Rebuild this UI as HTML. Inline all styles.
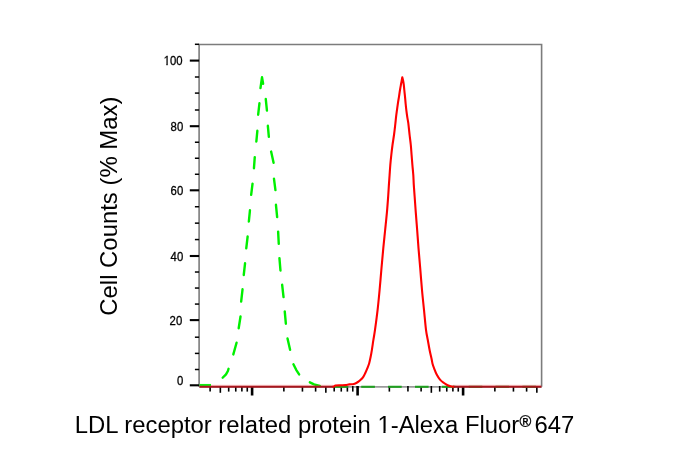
<!DOCTYPE html>
<html><head><meta charset="utf-8"><style>
html,body{margin:0;padding:0;background:#fff;}
body{width:696px;height:451px;position:relative;overflow:hidden;font-family:"Liberation Sans",Arial,sans-serif;}
svg{position:absolute;left:0;top:0;}
</style></head><body>
<svg width="696" height="451" viewBox="0 0 696 451">
<path d="M199.1,386.8 L199.1,44.55 L541.6,44.55 L541.6,386.8" fill="none" stroke="#7c7c7c" stroke-width="1.6"/>
<line x1="199.1" y1="386.8" x2="541.6" y2="386.8" stroke="#9a9a9a" stroke-width="1.8"/>
<line x1="189.8" y1="385.30" x2="199.1" y2="385.30" stroke="#000" stroke-width="2.1"/>
<line x1="194.9" y1="369.50" x2="199.1" y2="369.50" stroke="#000" stroke-width="1.5"/>
<line x1="194.9" y1="353.40" x2="199.1" y2="353.40" stroke="#000" stroke-width="1.5"/>
<line x1="194.9" y1="337.20" x2="199.1" y2="337.20" stroke="#000" stroke-width="1.5"/>
<line x1="189.8" y1="320.10" x2="199.1" y2="320.10" stroke="#000" stroke-width="2.1"/>
<line x1="194.9" y1="304.08" x2="199.1" y2="304.08" stroke="#000" stroke-width="1.5"/>
<line x1="194.9" y1="288.05" x2="199.1" y2="288.05" stroke="#000" stroke-width="1.5"/>
<line x1="194.9" y1="272.02" x2="199.1" y2="272.02" stroke="#000" stroke-width="1.5"/>
<line x1="189.8" y1="256.00" x2="199.1" y2="256.00" stroke="#000" stroke-width="2.1"/>
<line x1="194.9" y1="239.57" x2="199.1" y2="239.57" stroke="#000" stroke-width="1.5"/>
<line x1="194.9" y1="223.15" x2="199.1" y2="223.15" stroke="#000" stroke-width="1.5"/>
<line x1="194.9" y1="206.73" x2="199.1" y2="206.73" stroke="#000" stroke-width="1.5"/>
<line x1="189.8" y1="190.30" x2="199.1" y2="190.30" stroke="#000" stroke-width="2.1"/>
<line x1="194.9" y1="174.28" x2="199.1" y2="174.28" stroke="#000" stroke-width="1.5"/>
<line x1="194.9" y1="158.25" x2="199.1" y2="158.25" stroke="#000" stroke-width="1.5"/>
<line x1="194.9" y1="142.23" x2="199.1" y2="142.23" stroke="#000" stroke-width="1.5"/>
<line x1="189.8" y1="126.20" x2="199.1" y2="126.20" stroke="#000" stroke-width="2.1"/>
<line x1="194.9" y1="110.00" x2="199.1" y2="110.00" stroke="#000" stroke-width="1.5"/>
<line x1="194.9" y1="93.10" x2="199.1" y2="93.10" stroke="#000" stroke-width="1.5"/>
<line x1="194.9" y1="77.00" x2="199.1" y2="77.00" stroke="#000" stroke-width="1.5"/>
<line x1="189.8" y1="60.60" x2="199.1" y2="60.60" stroke="#000" stroke-width="2.1"/>
<line x1="194.9" y1="44.30" x2="199.1" y2="44.30" stroke="#000" stroke-width="1.5"/>
<line x1="210.12" y1="386.0" x2="210.12" y2="391.6" stroke="#000" stroke-width="1.6"/>
<line x1="220.34" y1="386.0" x2="220.34" y2="392.8" stroke="#000" stroke-width="1.6"/>
<line x1="228.69" y1="386.0" x2="228.69" y2="391.6" stroke="#000" stroke-width="1.6"/>
<line x1="235.76" y1="386.0" x2="235.76" y2="391.6" stroke="#000" stroke-width="1.6"/>
<line x1="241.88" y1="386.0" x2="241.88" y2="391.6" stroke="#000" stroke-width="1.6"/>
<line x1="247.27" y1="386.0" x2="247.27" y2="391.6" stroke="#000" stroke-width="1.6"/>
<line x1="252.10" y1="386.0" x2="252.10" y2="395.5" stroke="#000" stroke-width="2.6"/>
<line x1="283.86" y1="386.0" x2="283.86" y2="391.6" stroke="#000" stroke-width="1.6"/>
<line x1="302.44" y1="386.0" x2="302.44" y2="391.6" stroke="#000" stroke-width="1.6"/>
<line x1="315.62" y1="386.0" x2="315.62" y2="391.6" stroke="#000" stroke-width="1.6"/>
<line x1="325.84" y1="386.0" x2="325.84" y2="392.8" stroke="#000" stroke-width="1.6"/>
<line x1="334.19" y1="386.0" x2="334.19" y2="391.6" stroke="#000" stroke-width="1.6"/>
<line x1="341.26" y1="386.0" x2="341.26" y2="391.6" stroke="#000" stroke-width="1.6"/>
<line x1="347.38" y1="386.0" x2="347.38" y2="391.6" stroke="#000" stroke-width="1.6"/>
<line x1="352.77" y1="386.0" x2="352.77" y2="391.6" stroke="#000" stroke-width="1.6"/>
<line x1="357.60" y1="386.0" x2="357.60" y2="395.5" stroke="#000" stroke-width="2.6"/>
<line x1="389.36" y1="386.0" x2="389.36" y2="391.6" stroke="#000" stroke-width="1.6"/>
<line x1="407.94" y1="386.0" x2="407.94" y2="391.6" stroke="#000" stroke-width="1.6"/>
<line x1="421.12" y1="386.0" x2="421.12" y2="391.6" stroke="#000" stroke-width="1.6"/>
<line x1="431.34" y1="386.0" x2="431.34" y2="392.8" stroke="#000" stroke-width="1.6"/>
<line x1="439.69" y1="386.0" x2="439.69" y2="391.6" stroke="#000" stroke-width="1.6"/>
<line x1="446.76" y1="386.0" x2="446.76" y2="391.6" stroke="#000" stroke-width="1.6"/>
<line x1="452.88" y1="386.0" x2="452.88" y2="391.6" stroke="#000" stroke-width="1.6"/>
<line x1="458.27" y1="386.0" x2="458.27" y2="391.6" stroke="#000" stroke-width="1.6"/>
<line x1="463.10" y1="386.0" x2="463.10" y2="395.5" stroke="#000" stroke-width="2.6"/>
<line x1="494.86" y1="386.0" x2="494.86" y2="391.6" stroke="#000" stroke-width="1.6"/>
<line x1="513.44" y1="386.0" x2="513.44" y2="391.6" stroke="#000" stroke-width="1.6"/>
<line x1="526.62" y1="386.0" x2="526.62" y2="391.6" stroke="#000" stroke-width="1.6"/>
<line x1="536.84" y1="386.0" x2="536.84" y2="392.8" stroke="#000" stroke-width="1.6"/>
<g fill="none" stroke="#1f9f1f" stroke-width="2.1">
<line x1="334.4" y1="386.8" x2="348.0" y2="386.8"/>
<line x1="361.2" y1="386.8" x2="374.9" y2="386.8"/>
<line x1="388.1" y1="386.8" x2="401.7" y2="386.8"/>
<line x1="415.0" y1="386.8" x2="428.6" y2="386.8"/>
<line x1="441.8" y1="386.8" x2="455.4" y2="386.8"/>
<line x1="468.7" y1="386.8" x2="482.3" y2="386.8"/>
<line x1="495.5" y1="386.8" x2="509.1" y2="386.8"/>
<line x1="522.4" y1="386.8" x2="536.0" y2="386.8"/>
</g>
<line x1="199.5" y1="385.1" x2="211" y2="385.1" stroke="#10ee10" stroke-width="2.3"/>
<g fill="none" stroke="#00f000" stroke-width="2.4" stroke-linejoin="round" stroke-linecap="round">
<path d="M222.65,377.75 L226.00,374.40 L227.90,371.00 L228.56,368.78"/>
<path d="M233.33,354.42 L236.57,342.78"/>
<path d="M238.68,328.21 L240.52,316.49"/>
<path d="M241.16,301.60 L242.54,289.30"/>
<path d="M243.75,275.00 L245.05,263.30"/>
<path d="M246.26,248.30 L247.64,236.50"/>
<path d="M248.85,221.50 L249.95,210.30"/>
<path d="M251.16,194.90 L252.54,183.70"/>
<path d="M253.94,168.30 L254.76,157.10"/>
<path d="M256.35,141.50 L257.35,130.80"/>
<path d="M258.16,114.70 L259.44,103.30"/>
<path d="M260.47,88.10 L262.00,77.30 L263.11,83.71"/>
<path d="M265.75,98.90 L266.95,110.60"/>
<path d="M267.85,125.80 L268.85,136.90"/>
<path d="M271.11,151.59 L273.59,162.81"/>
<path d="M273.96,178.60 L275.44,190.10"/>
<path d="M275.95,204.80 L277.15,217.10"/>
<path d="M278.13,231.60 L278.77,243.90"/>
<path d="M279.44,258.20 L280.46,270.50"/>
<path d="M282.16,284.80 L283.54,297.10"/>
<path d="M284.74,311.40 L285.86,323.70"/>
<path d="M287.51,338.49 L290.09,349.81"/>
<path d="M293.42,364.25 L296.20,369.80 L299.13,374.38"/>
<path d="M309.85,382.32 L314.00,384.40 L319.82,385.97"/>
</g>
<line x1="211" y1="385.4" x2="333" y2="385.4" stroke="#ff3030" stroke-opacity="0.22" stroke-width="1.3"/>
<line x1="453" y1="385.4" x2="541" y2="385.4" stroke="#ff3030" stroke-opacity="0.22" stroke-width="1.3"/>
<line x1="199.5" y1="386.8" x2="333" y2="386.8" stroke="#a8161e" stroke-width="2"/>
<line x1="453" y1="386.8" x2="541.5" y2="386.8" stroke="#a8161e" stroke-width="2"/>
<g fill="none" stroke="#ff0000" stroke-width="2.1" stroke-linejoin="round">
<path d="M332.50,386.75 C332.68,386.73 333.13,386.81 333.60,386.60 C334.07,386.39 334.07,385.72 335.30,385.50 C336.53,385.28 339.30,385.37 341.00,385.30 C342.70,385.23 344.12,385.25 345.50,385.10 C346.88,384.95 347.92,384.58 349.30,384.40 C350.68,384.22 352.50,384.32 353.80,384.00 C355.10,383.68 356.00,383.17 357.10,382.50 C358.20,381.83 359.37,380.95 360.40,380.00 C361.43,379.05 362.48,377.97 363.30,376.80 C364.12,375.63 364.62,374.45 365.30,373.00 C365.98,371.55 366.75,369.73 367.40,368.10 C368.05,366.47 368.67,365.05 369.20,363.20 C369.73,361.35 370.15,359.23 370.60,357.00 C371.05,354.77 371.43,352.65 371.90,349.80 C372.37,346.95 372.88,343.22 373.40,339.90 C373.92,336.58 374.30,334.90 375.00,329.90 C375.70,324.90 376.83,316.55 377.60,309.90 C378.37,303.25 378.95,296.98 379.60,290.00 C380.25,283.02 380.88,274.97 381.50,268.00 C382.12,261.03 382.70,254.45 383.30,248.20 C383.90,241.95 384.50,236.42 385.10,230.50 C385.70,224.58 386.38,218.45 386.90,212.70 C387.42,206.95 387.87,200.63 388.20,196.00 C388.53,191.37 388.67,188.40 388.90,184.90 C389.13,181.40 389.37,178.32 389.60,175.00 C389.83,171.68 390.02,168.33 390.30,165.00 C390.58,161.67 390.93,158.33 391.30,155.00 C391.67,151.67 392.05,148.33 392.50,145.00 C392.95,141.67 393.55,138.33 394.00,135.00 C394.45,131.67 394.85,128.07 395.20,125.00 C395.55,121.93 395.80,119.12 396.10,116.60 C396.40,114.08 396.70,112.12 397.00,109.90 C397.30,107.68 397.57,105.52 397.90,103.30 C398.23,101.08 398.65,98.82 399.00,96.60 C399.35,94.38 399.63,92.22 400.00,90.00 C400.37,87.78 400.82,85.42 401.20,83.30 C401.58,81.18 402.12,78.30 402.30,77.30 C402.52,78.30 403.27,81.18 403.60,83.30 C403.93,85.42 404.07,87.78 404.30,90.00 C404.53,92.22 404.78,94.38 405.00,96.60 C405.22,98.82 405.38,101.08 405.60,103.30 C405.82,105.52 406.03,107.68 406.30,109.90 C406.57,112.12 406.87,114.38 407.20,116.60 C407.53,118.82 407.90,120.13 408.30,123.20 C408.70,126.27 409.18,131.37 409.60,135.00 C410.02,138.63 410.47,141.67 410.80,145.00 C411.13,148.33 411.33,151.67 411.60,155.00 C411.87,158.33 412.12,161.67 412.40,165.00 C412.68,168.33 413.07,171.68 413.30,175.00 C413.53,178.32 413.58,181.40 413.80,184.90 C414.02,188.40 414.27,191.37 414.60,196.00 C414.93,200.63 415.37,206.95 415.80,212.70 C416.23,218.45 416.75,224.58 417.20,230.50 C417.65,236.42 418.00,241.95 418.50,248.20 C419.00,254.45 419.62,261.03 420.20,268.00 C420.78,274.97 421.37,283.02 422.00,290.00 C422.63,296.98 423.33,303.25 424.00,309.90 C424.67,316.55 425.37,324.88 426.00,329.90 C426.63,334.92 427.18,336.57 427.80,340.00 C428.42,343.43 429.07,347.33 429.70,350.50 C430.33,353.67 431.12,356.75 431.60,359.00 C432.08,361.25 432.15,362.37 432.60,364.00 C433.05,365.63 433.62,367.03 434.30,368.80 C434.98,370.57 435.75,372.80 436.70,374.60 C437.65,376.40 438.78,378.20 440.00,379.60 C441.22,381.00 442.73,382.07 444.00,383.00 C445.27,383.93 446.52,384.65 447.60,385.20 C448.68,385.75 449.43,386.04 450.50,386.30 C451.57,386.56 453.42,386.68 454.00,386.75" stroke-miterlimit="10"/>
</g>
<defs><clipPath id="c1t" clipPathUnits="userSpaceOnUse"><rect x="-5.00" y="-60.90" width="25.20" height="60"/><rect x="3.018" y="-0.90" width="1.414" height="5"/></clipPath><clipPath id="c1x" clipPathUnits="userSpaceOnUse"><rect x="372.42" y="371.00" width="47.70" height="60"/><rect x="383.417" y="431.00" width="2.108" height="5"/></clipPath></defs>
<g font-family="Liberation Sans" fill="#000">
<g transform="translate(163.68,64.9) rotate(0.01) scale(0.9,1)" font-size="12.6" stroke="#000" stroke-width="0.3"><text x="0" y="0" clip-path="url(#c1t)">1</text><text x="7.008" y="0">00</text></g>
<g transform="translate(170.59,130.8) rotate(0.01) scale(0.9,1)" font-size="12.6" stroke="#000" stroke-width="0.3"><text x="0" y="0">80</text></g>
<g transform="translate(170.59,194.9) rotate(0.01) scale(0.9,1)" font-size="12.6" stroke="#000" stroke-width="0.3"><text x="0" y="0">60</text></g>
<g transform="translate(170.59,260.5) rotate(0.01) scale(0.9,1)" font-size="12.6" stroke="#000" stroke-width="0.3"><text x="0" y="0">40</text></g>
<g transform="translate(169.59,324.8) rotate(0.01) scale(0.9,1)" font-size="12.6" stroke="#000" stroke-width="0.3"><text x="0" y="0">20</text></g>
<g transform="translate(177.09,384.9) rotate(0.01) scale(0.9,1)" font-size="12.6" stroke="#000" stroke-width="0.3"><text x="0" y="0">0</text></g>
<text x="0" y="0" font-size="23.9" transform="translate(116.7,315.7) rotate(-90)">Cell Counts (% Max)</text>
<text x="74.8" y="433.3" font-size="23.85">LDL receptor related protein </text>
<text x="377.42" y="433.3" font-size="23.85" clip-path="url(#c1x)">1</text>
<text x="390.69" y="433.3" font-size="23.85">-Alexa Fluor</text>
<text x="519.5" y="427" font-size="16" stroke="#000" stroke-width="0.35">®</text>
<text x="534.6" y="433.3" font-size="23.85">647</text>
</g>
</svg>
</body></html>
